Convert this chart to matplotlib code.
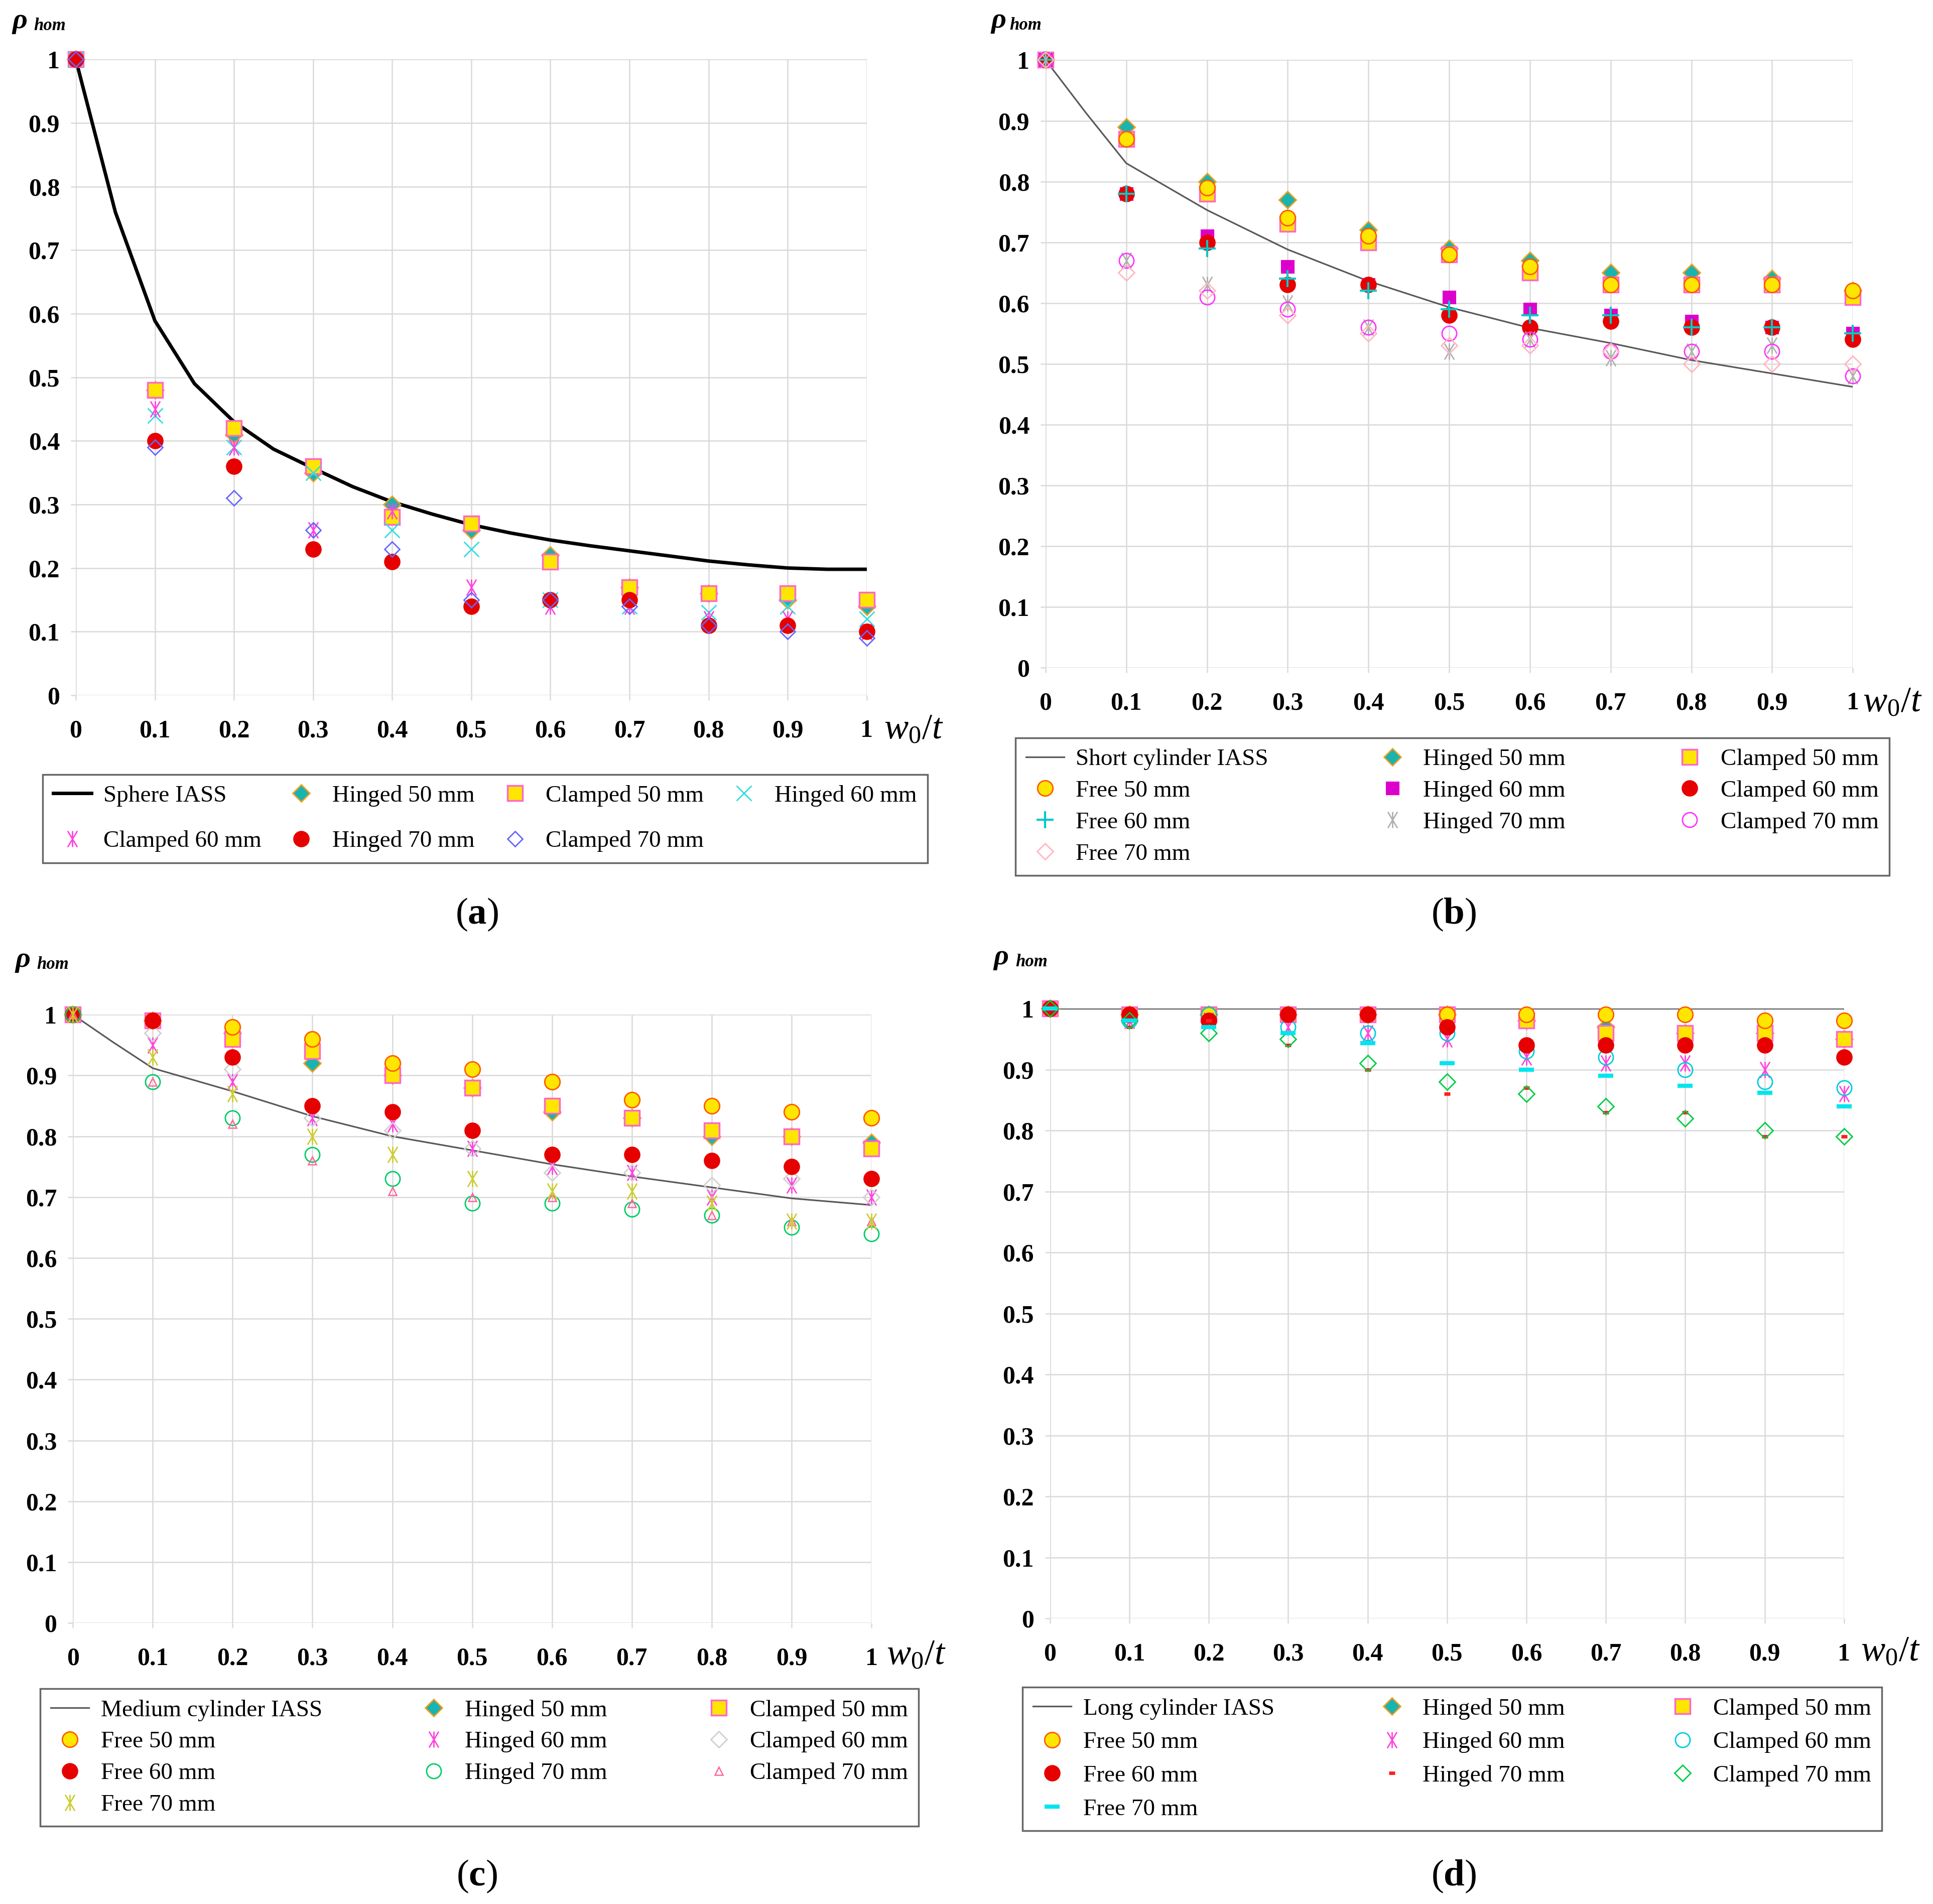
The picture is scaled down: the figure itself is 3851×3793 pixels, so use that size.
import matplotlib
matplotlib.use('Agg')
import matplotlib.pyplot as plt
from matplotlib.path import Path

plt.rcParams['font.family'] = ['Liberation Serif', 'DejaVu Serif']
plt.rcParams['mathtext.fontset'] = 'custom'
plt.rcParams['mathtext.rm'] = 'Liberation Serif'
plt.rcParams['mathtext.it'] = 'Liberation Serif:italic'
plt.rcParams['mathtext.bf'] = 'Liberation Serif:bold'

# ---------------- data ----------------
x_vals = [0, 0.1, 0.2, 0.3, 0.4, 0.5, 0.6, 0.7, 0.8, 0.9, 1.0]
x_tick_labels = ['0', '0.1', '0.2', '0.3', '0.4', '0.5', '0.6', '0.7', '0.8', '0.9', '1']
y_ticks = [0, 0.1, 0.2, 0.3, 0.4, 0.5, 0.6, 0.7, 0.8, 0.9, 1.0]
y_tick_labels = ['0', '0.1', '0.2', '0.3', '0.4', '0.5', '0.6', '0.7', '0.8', '0.9', '1']

# (a) sphere
curve_x_fine = [0, 0.05, 0.1, 0.15, 0.2, 0.25, 0.3, 0.35, 0.4, 0.45, 0.5, 0.55,
                0.6, 0.65, 0.7, 0.75, 0.8, 0.85, 0.9, 0.95, 1.0]
sphere_iass = [1.0, 0.76, 0.589, 0.49, 0.43, 0.387, 0.357, 0.328, 0.304, 0.285, 0.268,
               0.255, 0.244, 0.235, 0.227, 0.219, 0.211, 0.205, 0.200, 0.198, 0.198]
a_hinged_50 = [1.0, 0.48, 0.41, 0.35, 0.30, 0.26, 0.22, 0.17, 0.16, 0.15, 0.14]
a_clamped_50 = [1.0, 0.48, 0.42, 0.36, 0.28, 0.27, 0.21, 0.17, 0.16, 0.16, 0.15]
a_hinged_60 = [1.0, 0.44, 0.39, 0.35, 0.26, 0.23, 0.15, 0.14, 0.13, 0.14, 0.12]
a_clamped_60 = [1.0, 0.45, 0.39, 0.26, 0.29, 0.17, 0.14, 0.14, 0.12, 0.12, 0.10]
a_hinged_70 = [1.0, 0.40, 0.36, 0.23, 0.21, 0.14, 0.15, 0.15, 0.11, 0.11, 0.10]
a_clamped_70 = [1.0, 0.39, 0.31, 0.26, 0.23, 0.15, 0.15, 0.14, 0.11, 0.10, 0.09]

# (b) short cylinder
curve_x_b = [0, 0.05, 0.1, 0.2, 0.3, 0.4, 0.5, 0.6, 0.7, 0.8, 0.9, 1.0]
short_cyl_iass = [1.0, 0.913, 0.83, 0.753, 0.688, 0.636, 0.593, 0.559, 0.534, 0.506, 0.484, 0.462]
b_hinged_50 = [1.0, 0.89, 0.80, 0.77, 0.72, 0.69, 0.67, 0.65, 0.65, 0.64, 0.62]
b_clamped_50 = [1.0, 0.87, 0.78, 0.73, 0.70, 0.68, 0.65, 0.63, 0.63, 0.63, 0.61]
b_free_50 = [1.0, 0.87, 0.79, 0.74, 0.71, 0.68, 0.66, 0.63, 0.63, 0.63, 0.62]
b_hinged_60 = [1.0, 0.78, 0.71, 0.66, 0.63, 0.61, 0.59, 0.58, 0.57, 0.56, 0.55]
b_clamped_60 = [1.0, 0.78, 0.70, 0.63, 0.63, 0.58, 0.56, 0.57, 0.56, 0.56, 0.54]
b_free_60 = [1.0, 0.78, 0.69, 0.64, 0.62, 0.59, 0.58, 0.58, 0.56, 0.56, 0.55]
b_hinged_70 = [1.0, 0.67, 0.63, 0.60, 0.56, 0.52, 0.54, 0.51, 0.52, 0.53, 0.48]
b_clamped_70 = [1.0, 0.67, 0.61, 0.59, 0.56, 0.55, 0.54, 0.52, 0.52, 0.52, 0.48]
b_free_70 = [1.0, 0.65, 0.62, 0.58, 0.55, 0.53, 0.53, 0.52, 0.50, 0.50, 0.50]

# (c) medium cylinder
curve_x_c = [0, 0.05, 0.1, 0.2, 0.3, 0.4, 0.5, 0.6, 0.7, 0.8, 0.9, 1.0]
medium_cyl_iass = [1.0, 0.955, 0.912, 0.874, 0.833, 0.800, 0.777, 0.754, 0.734, 0.716, 0.698, 0.687]
c_hinged_50 = [1.0, 0.99, 0.97, 0.92, 0.90, 0.88, 0.84, 0.83, 0.80, 0.80, 0.79]
c_clamped_50 = [1.0, 0.99, 0.96, 0.94, 0.90, 0.88, 0.85, 0.83, 0.81, 0.80, 0.78]
c_free_50 = [1.0, 0.99, 0.98, 0.96, 0.92, 0.91, 0.89, 0.86, 0.85, 0.84, 0.83]
c_hinged_60 = [1.0, 0.95, 0.89, 0.83, 0.82, 0.78, 0.75, 0.74, 0.70, 0.72, 0.70]
c_clamped_60 = [1.0, 0.97, 0.91, 0.83, 0.81, 0.78, 0.74, 0.74, 0.72, 0.73, 0.70]
c_free_60 = [1.0, 0.99, 0.93, 0.85, 0.84, 0.81, 0.77, 0.77, 0.76, 0.75, 0.73]
c_hinged_70 = [1.0, 0.89, 0.83, 0.77, 0.73, 0.69, 0.69, 0.68, 0.67, 0.65, 0.64]
c_clamped_70 = [1.0, 0.89, 0.82, 0.76, 0.71, 0.70, 0.70, 0.69, 0.67, 0.66, 0.66]
c_free_70 = [1.0, 0.93, 0.87, 0.80, 0.77, 0.73, 0.71, 0.71, 0.69, 0.66, 0.66]

# (d) long cylinder
curve_x_d = [0, 1.0]
long_cyl_iass = [1.0, 1.0]
d_hinged_50 = [1.0, 0.99, 0.99, 0.99, 0.99, 0.99, 0.98, 0.97, 0.96, 0.96, 0.95]
d_clamped_50 = [1.0, 0.99, 0.99, 0.99, 0.99, 0.99, 0.98, 0.96, 0.96, 0.96, 0.95]
d_free_50 = [1.0, 0.99, 0.99, 0.99, 0.99, 0.99, 0.99, 0.99, 0.99, 0.98, 0.98]
d_hinged_60 = [1.0, 0.98, 0.98, 0.97, 0.96, 0.95, 0.92, 0.91, 0.91, 0.90, 0.86]
d_clamped_60 = [1.0, 0.98, 0.99, 0.97, 0.96, 0.96, 0.93, 0.92, 0.90, 0.88, 0.87]
d_free_60 = [1.0, 0.99, 0.98, 0.99, 0.99, 0.97, 0.94, 0.94, 0.94, 0.94, 0.92]
d_hinged_70 = [1.0, 0.97, 0.98, 0.94, 0.90, 0.86, 0.87, 0.83, 0.83, 0.79, 0.79]
d_clamped_70 = [1.0, 0.98, 0.96, 0.95, 0.91, 0.88, 0.86, 0.84, 0.82, 0.80, 0.79]
d_free_70 = [1.0, 0.98, 0.97, 0.96, 0.943, 0.91, 0.90, 0.89, 0.873, 0.862, 0.84]

# ---------------- styles ----------------
STAR = Path([(-0.6, -1), (0.6, 1), (-0.6, 1), (0.6, -1), (0, -1), (0, 1)],
            [Path.MOVETO, Path.LINETO, Path.MOVETO, Path.LINETO, Path.MOVETO, Path.LINETO])

TEAL, ORANGE = '#19B3B0', '#F0A020'
YELLOW, PINK = '#FFE600', '#FF66CC'
RED = '#E60000'

S = {
    'hinged50': dict(marker='D', markersize=17, markerfacecolor=TEAL, markeredgecolor=ORANGE, markeredgewidth=2),
    'clamped50': dict(marker='s', markersize=22, markerfacecolor=YELLOW, markeredgecolor=PINK, markeredgewidth=2.5),
    'free50': dict(marker='o', markersize=22, markerfacecolor=YELLOW, markeredgecolor='#FF5A00', markeredgewidth=2),
    'redcircle': dict(marker='o', markersize=22, markerfacecolor=RED, markeredgecolor=RED, markeredgewidth=1.5),
}

fig = plt.figure(figsize=(38.51, 37.93), dpi=100)

positions = {
    'a': [0.0392, 0.6349, 0.4092, 0.3339],
    'b': [0.5409, 0.6494, 0.4176, 0.3191],
    'c': [0.0377, 0.1476, 0.4131, 0.3195],
    'd': [0.5432, 0.1500, 0.4108, 0.3203],
}
legend_boxes = {
    'a': (0.0221, 0.5415, 0.4578, 0.0572),
    'b': (0.5253, 0.5413, 0.4521, 0.0701),
    'c': (0.0208, 0.0409, 0.4544, 0.0720),
    'd': (0.5290, 0.0382, 0.4446, 0.0759),
}
rho_offsets = {'a': (-127, -84, 62), 'b': (-109, -72, 64), 'c': (-115, -72, 95), 'd': (-112, -69, 88)}
xlabel_offsets = {'a': (34, -69), 'b': (20, -70), 'c': (30, -65), 'd': (33, -67)}
captions = {'a': (950, 1822), 'b': (2896, 1822), 'c': (950, 3738), 'd': (2896, 3738)}

GRID = '#D9D9D9'


def setup_axes(key):
    ax = fig.add_axes(positions[key])
    ax.set_xlim(0, 1)
    ax.set_ylim(0, 1)
    ax.set_xticks(x_vals)
    ax.set_xticklabels(x_tick_labels)
    ax.set_yticks(y_ticks)
    ax.set_yticklabels(y_tick_labels)
    for s in ax.spines.values():
        s.set_visible(False)
    ax.grid(True, color=GRID, linewidth=1.8, zorder=0)
    ax.set_axisbelow(True)
    ax.tick_params(axis='x', direction='out', length=7, width=1.8, color=GRID, pad=28,
                   labelsize=36)
    ax.tick_params(axis='y', direction='out', length=7, width=1.8, color=GRID, pad=16,
                   labelsize=36)
    for lab in ax.get_xticklabels() + ax.get_yticklabels():
        lab.set_fontweight('bold')
    dxr, dxh, dy = rho_offsets[key]
    ax.annotate('ρ', xy=(0, 1), xycoords='axes fraction', xytext=(dxr, dy),
                textcoords='offset pixels', fontsize=42, fontweight='bold',
                fontstyle='italic', ha='left', va='baseline', annotation_clip=False)
    ax.annotate('hom', xy=(0, 1), xycoords='axes fraction', xytext=(dxh, dy - 4),
                textcoords='offset pixels', fontsize=25, fontweight='bold',
                fontstyle='italic', ha='left', va='baseline', annotation_clip=False)
    dx, dyx = xlabel_offsets[key]
    ax.annotate(r'$w_0/t$', xy=(1, 0), xycoords='axes fraction', xytext=(dx, dyx),
                textcoords='offset pixels', fontsize=52, ha='left', va='center',
                annotation_clip=False)
    cx, cy = captions[key]
    fig.text(cx / 3851, 1 - cy / 3793, '(' + r'$\mathbf{' + key + '}$' + ')',
             fontsize=54, ha='center', va='center')
    return ax


def pts(ax, ys, label, **style):
    h, = ax.plot(x_vals, ys, linestyle='none', label=label, clip_on=False, zorder=3, **style)
    return h


def make_legend(ax, key, handles, ncol, labelspacing):
    x0, y0, w, h = legend_boxes[key]
    leg = ax.legend(handles=handles, loc='center', bbox_to_anchor=(x0, y0, w, h),
                    bbox_transform=fig.transFigure, mode='expand', ncol=ncol,
                    fontsize=34, frameon=True, fancybox=False, edgecolor='#404040',
                    labelspacing=labelspacing, handlelength=1.6, handletextpad=0.5,
                    borderpad=0.45, numpoints=1, borderaxespad=0)
    leg.get_frame().set_linewidth(2.5)
    return leg


# ---------- (a) ----------
ax = setup_axes('a')
hl = ax.plot(curve_x_fine, sphere_iass, color='black', linewidth=5, label='Sphere IASS', zorder=2)[0]
h1 = pts(ax, a_hinged_50, 'Hinged 50 mm', **S['hinged50'])
h2 = pts(ax, a_clamped_50, 'Clamped 50 mm', **S['clamped50'])
h3 = pts(ax, a_hinged_60, 'Hinged 60 mm', marker='x', markersize=21, markeredgecolor='#33DDDD', markeredgewidth=2)
h4 = pts(ax, a_clamped_60, 'Clamped 60 mm', marker=STAR, markersize=23, markerfacecolor='none', markeredgecolor='#FF44DD', markeredgewidth=2)
h5 = pts(ax, a_hinged_70, 'Hinged 70 mm', **S['redcircle'])
h6 = pts(ax, a_clamped_70, 'Clamped 70 mm', marker='D', markersize=15, markerfacecolor='none', markeredgecolor='#6666FF', markeredgewidth=2)
make_legend(ax, 'a', [hl, h4, h1, h5, h2, h6, h3], 4, 1.0)

# ---------- (b) ----------
ax = setup_axes('b')
hl = ax.plot(curve_x_b, short_cyl_iass, color='#595959', linewidth=2.3, label='Short cylinder IASS', zorder=2)[0]
h1 = pts(ax, b_hinged_50, 'Hinged 50 mm', **S['hinged50'])
h2 = pts(ax, b_clamped_50, 'Clamped 50 mm', **S['clamped50'])
h3 = pts(ax, b_free_50, 'Free 50 mm', **S['free50'])
h4 = pts(ax, b_hinged_60, 'Hinged 60 mm', marker='s', markersize=18, markerfacecolor='#DD00CC', markeredgecolor='#DD00CC', markeredgewidth=1.5)
h5 = pts(ax, b_clamped_60, 'Clamped 60 mm', **S['redcircle'])
h6 = pts(ax, b_free_60, 'Free 60 mm', marker='+', markersize=25, markeredgecolor='#00C8C8', markeredgewidth=3)
h7 = pts(ax, b_hinged_70, 'Hinged 70 mm', marker=STAR, markersize=23, markerfacecolor='none', markeredgecolor='#B0B0B0', markeredgewidth=2)
h8 = pts(ax, b_clamped_70, 'Clamped 70 mm', marker='o', markersize=21, markerfacecolor='none', markeredgecolor='#FF33FF', markeredgewidth=2)
h9 = pts(ax, b_free_70, 'Free 70 mm', marker='D', markersize=16, markerfacecolor='none', markeredgecolor='#FFB6C1', markeredgewidth=2)
make_legend(ax, 'b', [hl, h3, h6, h9, h1, h4, h7, h2, h5, h8], 3, 0.42)

# ---------- (c) ----------
ax = setup_axes('c')
hl = ax.plot(curve_x_c, medium_cyl_iass, color='#595959', linewidth=2.3, label='Medium cylinder IASS', zorder=2)[0]
h1 = pts(ax, c_hinged_50, 'Hinged 50 mm', **S['hinged50'])
h2 = pts(ax, c_clamped_50, 'Clamped 50 mm', **S['clamped50'])
h3 = pts(ax, c_free_50, 'Free 50 mm', **S['free50'])
h4 = pts(ax, c_hinged_60, 'Hinged 60 mm', marker=STAR, markersize=23, markerfacecolor='none', markeredgecolor='#FF44DD', markeredgewidth=2)
h5 = pts(ax, c_clamped_60, 'Clamped 60 mm', marker='D', markersize=16, markerfacecolor='none', markeredgecolor='#D0D0D0', markeredgewidth=2)
h6 = pts(ax, c_free_60, 'Free 60 mm', **S['redcircle'])
h7 = pts(ax, c_hinged_70, 'Hinged 70 mm', marker='o', markersize=21, markerfacecolor='none', markeredgecolor='#00CC66', markeredgewidth=2)
h8 = pts(ax, c_clamped_70, 'Clamped 70 mm', marker='^', markersize=12, markerfacecolor='none', markeredgecolor='#FF6699', markeredgewidth=1.8)
h9 = pts(ax, c_free_70, 'Free 70 mm', marker=STAR, markersize=23, markerfacecolor='none', markeredgecolor='#CCCC33', markeredgewidth=2)
make_legend(ax, 'c', [hl, h3, h6, h9, h1, h4, h7, h2, h5, h8], 3, 0.42)

# ---------- (d) ----------
ax = setup_axes('d')
hl = ax.plot(curve_x_d, long_cyl_iass, color='#595959', linewidth=2.3, label='Long cylinder IASS', zorder=2)[0]
h1 = pts(ax, d_hinged_50, 'Hinged 50 mm', **S['hinged50'])
h2 = pts(ax, d_clamped_50, 'Clamped 50 mm', **S['clamped50'])
h3 = pts(ax, d_free_50, 'Free 50 mm', **S['free50'])
h4 = pts(ax, d_hinged_60, 'Hinged 60 mm', marker=STAR, markersize=23, markerfacecolor='none', markeredgecolor='#FF44DD', markeredgewidth=2)
h5 = pts(ax, d_clamped_60, 'Clamped 60 mm', marker='o', markersize=21, markerfacecolor='none', markeredgecolor='#00CCDD', markeredgewidth=2)
h6 = pts(ax, d_free_60, 'Free 60 mm', **S['redcircle'])
h7 = pts(ax, d_hinged_70, 'Hinged 70 mm', marker='_', markersize=9, markeredgecolor='#FF2020', markeredgewidth=5)
h8 = pts(ax, d_clamped_70, 'Clamped 70 mm', marker='D', markersize=16, markerfacecolor='none', markeredgecolor='#00CC44', markeredgewidth=2)
h9 = pts(ax, d_free_70, 'Free 70 mm', marker='_', markersize=22, markeredgecolor='#00E5EE', markeredgewidth=6)
make_legend(ax, 'd', [hl, h3, h6, h9, h1, h4, h7, h2, h5, h8], 3, 0.5)

fig.savefig('out.png', dpi=100, facecolor='white')
